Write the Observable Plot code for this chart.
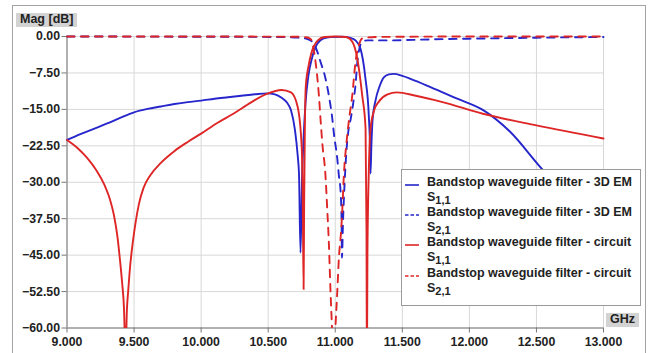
<!DOCTYPE html>
<html>
<head>
<meta charset="utf-8">
<script src="https://cdn.jsdelivr.net/npm/d3@7"></script>
<script src="https://cdn.jsdelivr.net/npm/@observablehq/plot@0.6"></script>
<style>
  html, body { margin: 0; padding: 0; background: #fff; overflow: hidden; }
  #wrap { position: relative; width: 648px; height: 353px; font-family: "Liberation Sans", Arial, sans-serif; font-weight: bold; color: #222; }
  #frame { position: absolute; left: 12px; top: 5px; width: 634px; height: 400px; border: 1px solid #a3a3a3; box-sizing: border-box; }
  #chart { position: absolute; left: 0; top: 0; }
  .tag { position: absolute; background: #d3d3d3; font-size: 12.5px; line-height: 13.5px; padding: 0 4px; white-space: nowrap; }
  #legend { position: absolute; left: 401px; top: 169px; width: 240px; height: 137px; box-sizing: border-box;
            border: 1px solid #9a9a9a; background: #fff; padding-top: 4.5px; font-size: 12.5px; }
  .row { position: relative; height: 15.2px; line-height: 15.2px; padding-left: 25px; white-space: nowrap; }
  .row svg { position: absolute; left: 3px; top: 0; }
  .row .sub { font-size: 11px; position: relative; top: 3px; }
</style>
</head>
<body>
<div id="wrap">
  <div id="frame"></div>
  <div id="chart"></div>
  <div class="tag" style="left:16px; top:13px;">Mag [dB]</div>
  <div class="tag" style="left:606px; top:313px;">GHz</div>
  <div id="legend"></div>
</div>
<script>
// Axis ticks
const xTicks = [9.0, 9.5, 10.0, 10.5, 11.0, 11.5, 12.0, 12.5, 13.0];
const yTicks = [0, -7.5, -15, -22.5, -30, -37.5, -45, -52.5, -60];

// Bandstop waveguide filter - 3D EM, S1,1 (dB vs GHz)
const emS11Freq = [9.0, 9.1, 9.2, 9.3, 9.4, 9.5, 9.6, 9.7, 9.8, 9.9, 10.0, 10.1, 10.2, 10.3, 10.4, 10.49, 10.55, 10.6, 10.64, 10.67,
  10.70, 10.72, 10.73, 10.741, 10.752, 10.763, 10.778, 10.80, 10.828, 10.866, 10.913, 10.965, 11.05, 11.114, 11.151, 11.188,
  11.225, 11.25, 11.26, 11.263, 11.27, 11.278, 11.30, 11.33, 11.362, 11.40, 11.437, 11.50, 11.561, 11.71, 11.9, 12.106,
  12.3, 12.553, 12.8, 13.0];
const emS11Mag = [-21.3, -20.1, -19.0, -17.9, -16.7, -15.6, -14.9, -14.4, -13.9, -13.5, -13.2, -12.8, -12.5, -12.2, -11.9, -11.7, -11.9, -12.6, -13.6, -15.2,
  -19.3, -24.5, -28.5, -44.5, -29.6, -21.4, -13.8, -8.0, -4.3, -1.5, -0.4, -0.1, -0.05, -0.3, -0.8, -2.5,
  -8.6, -16.2, -23.5, -28.2, -22.0, -17.3, -13.2, -10.3, -8.4, -7.8, -7.7, -8.1, -8.7, -10.4, -12.7, -15.2,
  -19.5, -27.6, -34.0, -39.0];

// Bandstop waveguide filter - 3D EM, S2,1
const emS21Freq = [9.0, 10.0, 10.6, 10.75, 10.8, 10.838, 10.865, 10.89, 10.927, 10.952, 10.978, 10.99, 11.015, 11.027, 11.04, 11.047,
  11.05, 11.058, 11.07, 11.085, 11.10, 11.115, 11.127, 11.14, 11.151, 11.164, 11.18, 11.201, 11.239, 11.4, 11.7, 12.0, 12.5, 13.0];
const emS21Mag = [0, -0.05, -0.1, -0.3, -0.6, -1.4, -3.0, -5.2, -8.6, -12.1, -16.9, -20.0, -25.1, -28.6, -32.0, -37.5,
  -45.5, -38.0, -30.0, -23.0, -19.0, -17.0, -15.0, -12.5, -10.0, -5.5, -2.5, -1.1, -0.8, -0.8, -0.6, -0.45, -0.25, -0.1];

// Bandstop waveguide filter - circuit, S1,1
const ckS11Freq = [9.0, 9.08, 9.15, 9.22, 9.28, 9.32, 9.35, 9.375, 9.395, 9.412, 9.425, 9.436, 9.447, 9.456, 9.47, 9.49, 9.51,
  9.536, 9.57, 9.62, 9.7, 9.8, 9.9, 10.0,
  10.12, 10.24, 10.37, 10.49, 10.60, 10.67, 10.72, 10.75, 10.758, 10.764, 10.768, 10.773, 10.78, 10.80, 10.82, 10.87, 10.92,
  11.0, 11.08, 11.127, 11.164, 11.201, 11.226, 11.233, 11.236, 11.24, 11.25, 11.263, 11.29, 11.325, 11.39, 11.46, 11.6, 11.8,
  12.1, 12.5, 13.0];
const ckS11Mag = [-21.3, -23.0, -25.0, -27.6, -30.6, -33.5, -36.8, -41.0, -46.0, -51.0, -56.0, -66.0, -56.0, -52.5, -47.5, -42.5, -38.5,
  -34.5, -31.2, -28.6, -26.0, -23.6, -21.7, -20.0,
  -17.8, -15.9, -13.6, -11.8, -11.0, -11.5, -14.5, -22.8, -35.0, -52.0, -35.0, -20.0, -10.4, -6.2, -3.6, -0.8, -0.1,
  0, -0.1, -1.1, -4.5, -12.1, -18.9, -40.0, -70.0, -45.0, -28.0, -19.0, -15.2, -13.4, -11.9, -11.5, -12.2, -13.5,
  -15.9, -18.3, -21.0];

// Bandstop waveguide filter - circuit, S2,1
const ckS21Freq = [9.0, 10.0, 10.7, 10.78, 10.816, 10.853, 10.878, 10.89, 10.903, 10.927, 10.94, 10.952, 10.965, 10.976, 10.988,
  11.002, 11.015, 11.027, 11.045, 11.053, 11.064, 11.084, 11.101, 11.127, 11.151, 11.176, 11.201, 11.3, 12.0, 13.0];
const ckS21Mag = [0, 0, -0.05, -0.15, -0.5, -5.2, -12.1, -16.9, -21.8, -28.6, -35.4, -42.3, -52.7, -60.0, -68.0,
  -59.5, -52.6, -45.7, -39.5, -35.4, -28.6, -21.8, -17.5, -12.1, -5.2, -1.8, -0.4, -0.1, 0, 0];

const seriesNames = ["Bandstop waveguide filter - 3D EM", "Bandstop waveguide filter - 3D EM",
                     "Bandstop waveguide filter - circuit", "Bandstop waveguide filter - circuit"];
const seriesParams = [["1", "1"], ["2", "1"], ["1", "1"], ["2", "1"]];

const BLUE = "#2626cc";
const RED = "#de2626";
const styles = [
  {stroke: BLUE, dash: null, legendDash: null},
  {stroke: BLUE, dash: "7.5,6.5", legendDash: "3.5,2"},
  {stroke: RED, dash: null, legendDash: null},
  {stroke: RED, dash: "7.5,6.5", legendDash: "3.5,2"}
];

const rows = (freq, mag) => freq.map((f, i) => ({freq: f, mag: mag[i]}));
const traces = [
  rows(emS11Freq, emS11Mag),
  rows(emS21Freq, emS21Mag),
  rows(ckS11Freq, ckS11Mag),
  rows(ckS21Freq, ckS21Mag)
];

const grid = {stroke: "#d8d8d8", strokeOpacity: 1, strokeWidth: 1};

const chart = Plot.plot({
  width: 648,
  height: 353,
  marginLeft: 66.5,
  marginRight: 45,
  marginTop: 36,
  marginBottom: 25.5,
  x: {domain: [xTicks[0], xTicks[xTicks.length - 1]]},
  y: {domain: [yTicks[yTicks.length - 1], yTicks[0]]},
  style: {fontFamily: "'Liberation Sans', Arial, sans-serif", fontSize: "12.3px", fontWeight: "bold", color: "#222", background: "transparent"},
  marks: [
    Plot.gridX(xTicks, grid),
    Plot.gridY(yTicks, grid),
    Plot.ruleX([xTicks[0]], {stroke: "#777"}),
    Plot.ruleY([yTicks[yTicks.length - 1]], {stroke: "#777"}),
    Plot.axisX(xTicks, {tickFormat: d3.format(".3f"), tickSize: 5, tickPadding: 4, label: null, stroke: "#777", fill: "#222"}),
    Plot.axisY(yTicks, {tickFormat: d3.format(".2f"), tickSize: 5, tickPadding: 2, label: null, stroke: "#777", fill: "#222"}),
    ...traces.map((data, i) => Plot.line(data, {
      x: "freq", y: "mag", curve: "monotone-x",
      stroke: styles[i].stroke, strokeWidth: 1.9,
      strokeDasharray: styles[i].dash ?? undefined
    }))
  ]
});

// keep curves inside the plotting area, but let the 0 dB stroke show in full
const xs = chart.scale("x"), ys = chart.scale("y");
const svg = d3.select(chart);
const x0 = xs.apply(xTicks[0]) - 2, x1 = xs.apply(xTicks[xTicks.length - 1]) + 2;
const y0 = ys.apply(yTicks[0]) - 3, y1 = ys.apply(yTicks[yTicks.length - 1]);
svg.insert("defs", ":first-child").append("clipPath").attr("id", "plot-area")
  .append("rect").attr("x", x0).attr("y", y0).attr("width", x1 - x0).attr("height", y1 - y0);
svg.selectAll('g[aria-label="line"]').attr("clip-path", "url(#plot-area)");

document.getElementById("chart").append(chart);

// legend
const legend = d3.select("#legend");
seriesNames.forEach((name, i) => {
  const r1 = legend.append("div").attr("class", "row");
  const s = r1.append("svg").attr("width", 16).attr("height", 15);
  s.append("line").attr("x1", 0).attr("x2", 14).attr("y1", 10).attr("y2", 10)
    .attr("stroke", styles[i].stroke).attr("stroke-width", 1.6)
    .attr("stroke-dasharray", styles[i].legendDash);
  r1.append("span").text(name);
  const r2 = legend.append("div").attr("class", "row");
  r2.append("span").text("S");
  r2.append("span").attr("class", "sub").text(seriesParams[i].join(","));
});
</script>
</body>
</html>
